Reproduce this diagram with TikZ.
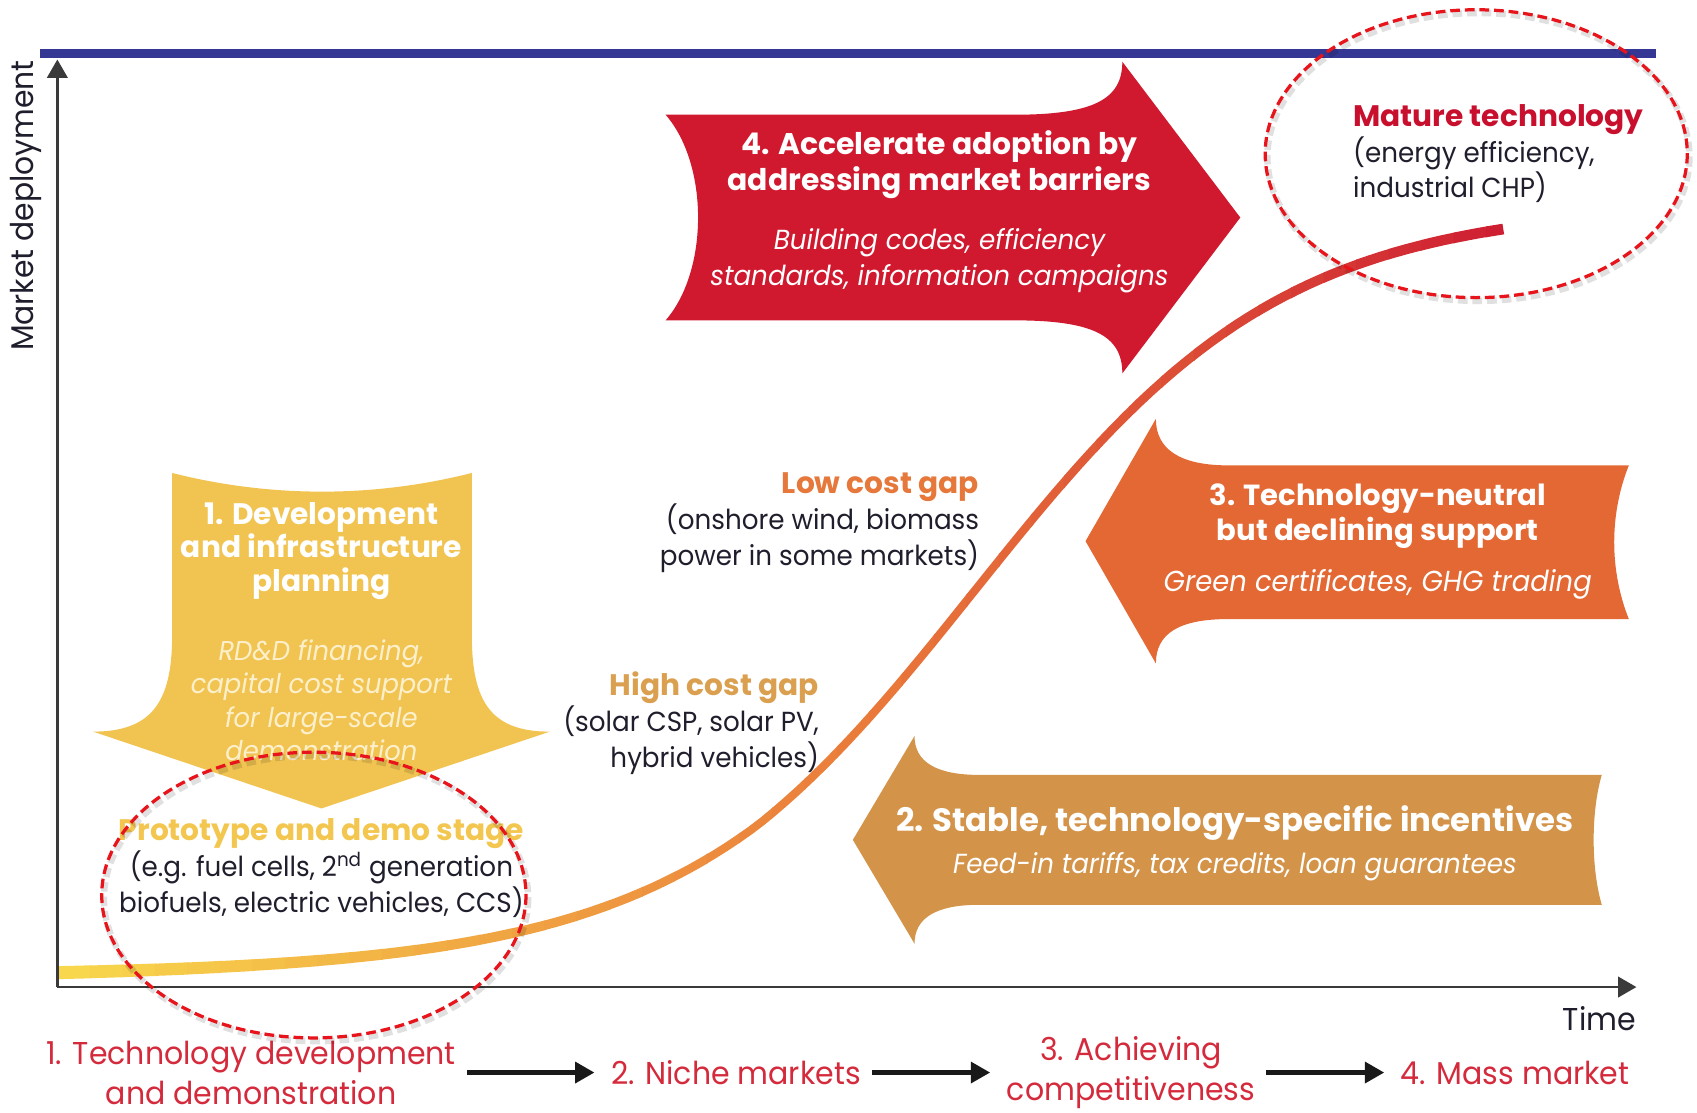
\documentclass[tikz,border=0pt]{standalone}
\usepackage{fontspec}
\setmainfont{Poppins}[FakeStretch=0.95]
\newfontfamily\headfont{Poppins}
\usetikzlibrary{arrows.meta}

\definecolor{barblue}{HTML}{343794}
\definecolor{redarrow}{HTML}{D0192E}
\definecolor{orangearrow}{HTML}{E36834}
\definecolor{tanarrow}{HTML}{D3944A}
\definecolor{yellowarrow}{HTML}{F1C451}
\definecolor{stagered}{HTML}{D42A3C}
\definecolor{maturecol}{HTML}{C8102E}
\definecolor{lowgapcol}{HTML}{E5783A}
\definecolor{highgapcol}{HTML}{DAA050}
\definecolor{protocol}{HTML}{F3C650}
\definecolor{darktext}{HTML}{1E1E2C}
\definecolor{creamtext}{HTML}{FCF0CC}
\definecolor{ringred}{HTML}{E8141C}
\definecolor{curveyellow}{HTML}{F8D74C}
\definecolor{curveorange}{HTML}{E9783A}
\definecolor{curvered}{HTML}{CD1C32}
\definecolor{axisgray}{HTML}{3A3A3A}

\newcommand{\bodyfs}{\fontsize{14.5pt}{18.8pt}\selectfont}
\newcommand{\headfs}{\fontsize{15.6pt}{18.8pt}\selectfont}
\newcommand{\yellowfs}{\fontsize{14.3pt}{17.6pt}\selectfont}
\newcommand{\stagefs}{\fontsize{16.6pt}{21pt}\selectfont}
\newcommand{\scurvepath}{plot[domain=53:1389, samples=120] (\x, {904-715/(1+exp(-(\x-900)/(143+30*max(0,(700-\x)/650))))})}

\begin{document}
\begin{tikzpicture}[x=0.02cm, y=-0.02cm,
  ringstyle/.style={ringred, line width=0.06cm, dash pattern=on 0.18cm off 0.09cm},
  ringshadow/.style={black, opacity=0.12, line width=0.12cm, dash pattern=on 0.18cm off 0.09cm},
  whitehead/.style={text=white, align=center, inner sep=0pt, font=\headfs\headfont\bfseries},
  whitesub/.style={text=white, align=center, inner sep=0pt, font=\bodyfs\itshape},
  gaplabel/.style={align=right, inner sep=0pt, anchor=east, font=\bodyfs, text=darktext},
  stage/.style={text=stagered, align=center, inner sep=0pt, font=\stagefs},
  stagearrow/.style={black!90, line width=0.1cm, -{Triangle[length=0.36cm, width=0.38cm]}, shorten <=0.2cm, shorten >=0.3cm},
  axis/.style={axisgray, line width=0.045cm, -{Triangle[length=0.34cm, width=0.38cm]}}]
\useasboundingbox (0,0) rectangle (1568,1028);

\fill[barblue] (37,45) rectangle (1530,54);

% policy arrows
\fill[redarrow] (615,106) -- (937,106) .. controls (1010,106) and (1037,92) .. (1037,57) -- (1146,201) -- (1037,345) .. controls (1037,310) and (1010,296) .. (937,296) -- (615,296) .. controls (655,250) and (655,152) .. cycle;
\fill[orangearrow] (1003,500) -- (1068,387) .. controls (1068,415) and (1090,430) .. (1135,430) -- (1505,430) .. controls (1487,475) and (1487,527) .. (1505,572) -- (1135,572) .. controls (1090,572) and (1068,585) .. (1068,613) -- cycle;
\fill[tanarrow] (788,776) -- (845,680) .. controls (845,704) and (865,716) .. (905,716) -- (1480,716) .. controls (1470,750) and (1470,802) .. (1480,836) -- (905,836) .. controls (865,836) and (845,848) .. (845,872) -- cycle;
\fill[yellowarrow] (159,437) .. controls (250,460) and (345,460) .. (436,437) -- (436,588) .. controls (436,650) and (455,676) .. (508,676) -- (297,747) -- (86,676) .. controls (139,676) and (159,650) .. (159,588) -- cycle;

% deployment curve
\foreach \i in {0,...,45} {
  \pgfmathsetmacro{\xa}{53+30*\i}
  \pgfmathsetmacro{\xb}{\xa+31}
  \pgfmathsetmacro{\pa}{min(100,max(0,(\xa-53)/7.5))}
  \pgfmathsetmacro{\pb}{min(100,max(0,(\xa-800)/5.9))}
  \pgfmathsetmacro{\lw}{(12-4.5*min(1,(\xa-53)/600)+2.5*max(0,(\xa-950)/440))*0.02}
  \colorlet{segcol}{curveorange!\pa!curveyellow}
  \colorlet{segcol}{curvered!\pb!segcol}
  \begin{scope}
    \clip (\xa,0) rectangle (\xb,1028);
    \draw[segcol, line width=\lw cm] \scurvepath;
  \end{scope}
}

\coordinate (origin) at (53,912);
\coordinate (ytop) at (53,55);
\coordinate (xend) at (1512,912);
\draw[axis] (origin) -- (ytop);
\draw[axis] (origin) -- (xend);
\node[rotate=90, inner sep=0pt, font=\fontsize{16.5pt}{20pt}\selectfont, text=darktext] (ylabel) at (24,190) {Market deployment};
\node[anchor=east, inner sep=0pt, font=\stagefs, text=darktext] (timelabel) at (1512,941) {Time};

\node[whitehead, font=\fontsize{15.7pt}{18.8pt}\selectfont\headfont\bfseries] (head4) at (868,152) {4. Accelerate adoption by\\addressing market barriers};
\node[whitesub] (sub4) at (868,241) {Building codes, efficiency\\standards, information campaigns};
\node[whitehead, font=\fontsize{15.3pt}{18.8pt}\selectfont\headfont\bfseries] (head3) at (1273,477) {3. Technology-neutral\\but declining support};
\node[whitesub, font=\fontsize{15.2pt}{18.8pt}\selectfont\itshape] (sub3) at (1273,540) {Green certificates, GHG trading};
\node[whitehead, font=\fontsize{17pt}{20pt}\selectfont\headfont\bfseries] (head2) at (1141,760) {2. Stable, technology-specific incentives};
\node[whitesub] (sub2) at (1141,801) {Feed-in tariffs, tax credits, loan guarantees};
\node[whitehead, font=\fontsize{15.6pt}{17.6pt}\selectfont\headfont\bfseries] (head1) at (297,509) {1. Development\\and infrastructure\\planning};
\node[whitesub, font=\yellowfs\itshape, text=creamtext] (sub1) at (297,647) {RD\&D financing,\\capital cost support\\for large-scale\\demonstration};

\node[anchor=west, align=left, inner sep=0pt, font=\bodyfs, text=darktext] (mature) at (1250,142) {{\headfs\headfont\bfseries\color{maturecol}Mature technology}\\(energy efficiency,\\industrial CHP)};
\node[gaplabel] (lowgap) at (905,483) {{\headfs\headfont\bfseries\color{lowgapcol}Low cost gap}\\(onshore wind, biomass\\power in some markets)};
\node[gaplabel] (highgap) at (757,668) {{\headfs\headfont\bfseries\color{highgapcol}High cost gap}\\(solar CSP, solar PV,\\hybrid vehicles)};
\node[align=center, inner sep=0pt, font=\bodyfs, text=darktext] (proto) at (297,802) {{\headfs\headfont\bfseries\color{protocol}Prototype and demo stage}\\(e.g. fuel cells, 2\textsuperscript{nd} generation\\biofuels, electric vehicles, CCS)};

\node[stage] (s1) at (232,991) {1. Technology development\\and demonstration};
\node[stage] (s2) at (680,991) {2. Niche markets};
\node[stage] (s3) at (1045,991) {3. Achieving\\competitiveness};
\node[stage] (s4) at (1400,991) {4. Mass market};
\draw[stagearrow] (s1) -- (s2);
\draw[stagearrow] (s2) -- (s3);
\draw[stagearrow] (s3) -- (s4);

\draw[ringshadow] (292,830) ellipse [x radius=196, y radius=132];
\draw[ringshadow] (1366,145) ellipse [x radius=195, y radius=133];
\draw[ringstyle] (290,827) ellipse [x radius=196, y radius=132];
\draw[ringstyle] (1364,142) ellipse [x radius=195, y radius=133];
\end{tikzpicture}
\end{document}
